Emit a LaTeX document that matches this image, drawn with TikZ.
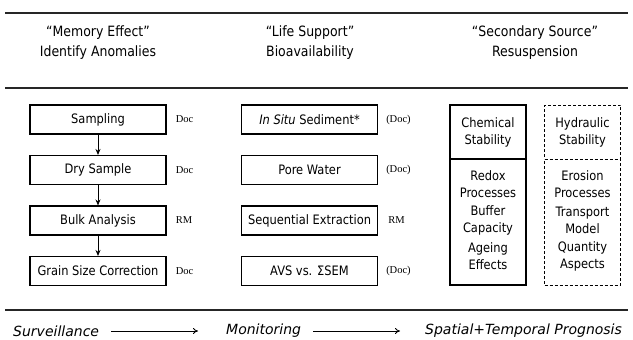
\documentclass[tikz,border=0pt]{standalone}
\usepackage{fontspec}
\setmainfont[FakeStretch=0.88]{DejaVu Sans}
\newfontfamily\flowfont{DejaVu Sans}
\newfontfamily\docfont{Liberation Serif}
\usetikzlibrary{positioning,arrows.meta}

\begin{document}
\begin{tikzpicture}[x=1pt, y=-1pt,
    hdr/.style={align=center, font=\fontsize{14.2}{20}\selectfont, inner sep=0pt},
    rulebar/.style={line width=1.3pt, black!85},
    stepbox/.style={rectangle, draw=black, line width=1.1pt, minimum width=136pt, minimum height=29pt, inner sep=0pt, font=\fontsize{13}{15}\selectfont},
    doclbl/.style={font=\docfont\fontsize{10.5}{12}\selectfont, inner sep=1pt},
    stabbox/.style={rectangle, draw=black, line width=1.1pt, minimum width=76pt, inner sep=0pt},
    hydbox/.style={stabbox, line width=0.8pt, dash pattern=on 3pt off 2pt},
    stabtxt/.style={align=center, font=\fontsize{13}{17}\selectfont, inner sep=0pt},
    flowtxt/.style={font=\flowfont\itshape\fontsize{14}{16}\selectfont, inner sep=0pt, anchor=west},
    downarr/.style={-{Stealth[length=6pt, width=5pt]}, line width=1pt},
    flowarr/.style={-{To[length=5pt, width=6pt]}, line width=0.8pt, shorten <=12pt, shorten >=28pt}
]
\useasboundingbox (0,0) rectangle (633,340);

% Rules
\draw[rulebar] (5,13) -- (628,13);
\draw[rulebar] (5,88) -- (628,88);
\draw[rulebar] (5,310) -- (628,310);

% Headers
\node[hdr] (memory) at (98,43) {“Memory Effect”\\Identify Anomalies};
\node[hdr] (life) at (310,43) {“Life Support”\\Bioavailability};
\node[hdr] (second) at (535,43) {“Secondary Source”\\Resuspension};

% Left column
\node[stepbox] (sampling) at (98,119.5) {Sampling};
\node[stepbox] (drysample) at (98,170) {Dry Sample};
\node[stepbox] (bulk) at (98,220.5) {Bulk Analysis};
\node[stepbox] (grain) at (98,271) {Grain Size Correction};
\node[doclbl, right=8pt of sampling] (docA) {Doc};
\node[doclbl, right=8pt of drysample] (docB) {Doc};
\node[doclbl, right=8pt of bulk] (rmA) {RM};
\node[doclbl, right=8pt of grain] (docC) {Doc};

\draw[downarr] (sampling) -- (drysample);
\draw[downarr] (drysample) -- (bulk);
\draw[downarr] (bulk) -- (grain);

% Middle column
\node[stepbox] (insitu) at (309.5,119.5) {\textit{In Situ} Sediment*};
\node[stepbox] (pore) at (309.5,170) {Pore Water};
\node[stepbox] (seqext) at (309.5,220.5) {Sequential Extraction};
\node[stepbox] (avs) at (309.5,271) {AVS vs. ΣSEM};
\node[doclbl, right=7pt of insitu] (docD) {(Doc)};
\node[doclbl, right=7pt of pore] (docE) {(Doc)};
\node[doclbl, right=9pt of seqext] (rmB) {RM};
\node[doclbl, right=7pt of avs] (docF) {(Doc)};

% Right column: stability
\node[stabbox, minimum height=54pt] (chemhead) at (488,132) {};
\node[stabbox, minimum height=126pt] (chembody) at (488,222) {};
\node[hydbox, minimum height=54pt] (hydhead) at (582.5,132) {};
\node[hydbox, minimum height=126pt] (hydbody) at (582.5,222) {};

\node[stabtxt] (chemical) at (488,132.5) {Chemical\\Stability};
\node[stabtxt] (redox) at (488,184) {Redox\\Processes};
\node[stabtxt] (buffer) at (488,220) {Buffer\\Capacity};
\node[stabtxt] (ageing) at (488,256) {Ageing\\Effects};

\node[stabtxt] (hydraulic) at (582.5,132.5) {Hydraulic\\Stability};
\node[stabtxt] (erosion) at (582.5,184) {Erosion\\Processes};
\node[stabtxt] (transport) at (582.5,220) {Transport\\Model};
\node[stabtxt] (quantity) at (582.5,256) {Quantity\\Aspects};

% Bottom flow
\node[flowtxt] (surv) at (13,331) {Surveillance};
\node[flowtxt] (moni) at (226,331) {Monitoring};
\node[flowtxt] (prog) at (425,331) {Spatial+Temporal Prognosis};
\draw[flowarr] (surv) -- (moni);
\draw[flowarr, shorten >=25pt] (moni) -- (prog);

\end{tikzpicture}
\end{document}
